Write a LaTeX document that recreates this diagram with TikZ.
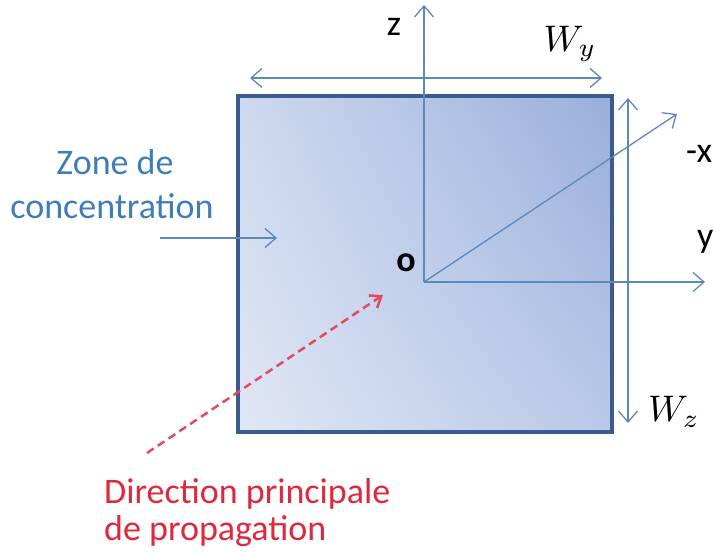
\documentclass[tikz,border=0pt]{standalone}
\usepackage{fontspec}
\setmainfont{Carlito}
\usetikzlibrary{arrows.meta,shadings}
\definecolor{boxedge}{HTML}{3B5B8C}
\definecolor{axiscol}{HTML}{5E88BA}
\definecolor{zonecol}{HTML}{3F7DBA}
\definecolor{redcol}{HTML}{E0283C}
\definecolor{dashcol}{HTML}{E24A62}
\definecolor{lightfill}{HTML}{E0E7F5}
\definecolor{darkfill}{HTML}{98AFDC}
\tikzset{
  barb/.tip={Straight Barb[length=11pt,width=19pt]},
  axis/.style={draw=axiscol, line width=1.3pt, -barb},
  dim/.style={draw=axiscol, line width=1.3pt, barb-barb},
  lbl/.style={font=\fontsize{36}{40}\selectfont, inner sep=0pt},
  blbl/.style={font=\fontsize{36}{40}\selectfont\bfseries, inner sep=0pt},
  mlbl/.style={scale=3.7, inner sep=0pt},
}
\begin{document}
\begin{tikzpicture}[x=1pt,y=-1pt]
\useasboundingbox (0,0) rectangle (714,551);
\shade[lower left=lightfill, upper right=darkfill, lower right=lightfill!45!darkfill, upper left=lightfill!75!darkfill] (238,96) rectangle (612,432);
\draw[boxedge, line width=4pt] (238,96) rectangle (612,432);
\coordinate (O) at (424,282);
\coordinate (zend) at (424,5);
\coordinate (yend) at (705,282);
\coordinate (xend) at (677,114);
\draw[axis] (O) -- (zend);
\draw[axis] (O) -- (yend);
\draw[axis] (O) -- (xend);
\node[lbl] (zl) at (394,27) {z};
\node[lbl, anchor=base west] (yl) at (697,247) {y};
\node[lbl, anchor=base west] (xl) at (686,162) {-x};
\node[blbl] (ol) at (406,263) {o};
\coordinate (wyl) at (250,78);
\coordinate (wyr) at (602,78);
\draw[dim] (wyl) -- (wyr);
\node[mlbl] (wy) at (570,44) {$W_y$};
\coordinate (wzt) at (628,98);
\coordinate (wzb) at (628,423);
\draw[dim] (wzt) -- (wzb);
\node[mlbl] (wz) at (674,412) {$W_z$};
\node[lbl, text=zonecol, anchor=base] (zone1) at (115,174) {Zone de};
\node[lbl, text=zonecol, anchor=base] (zone2) at (112,218) {concentration};
\coordinate (za) at (160,238);
\coordinate (zb) at (277,238);
\draw[axis] (za) -- (zb);
\coordinate (ra) at (147,453);
\coordinate (rb) at (383,295);
\draw[draw=dashcol, line width=2.5pt, dash pattern=on 8pt off 5pt, -{Straight Barb[length=10pt,width=15pt]}] (ra) -- (rb);
\node[lbl, text=redcol, anchor=base west] (dir1) at (104,503) {Direction principale};
\node[lbl, text=redcol, anchor=base west] (dir2) at (104,540) {de propagation};
\end{tikzpicture}
\end{document}
